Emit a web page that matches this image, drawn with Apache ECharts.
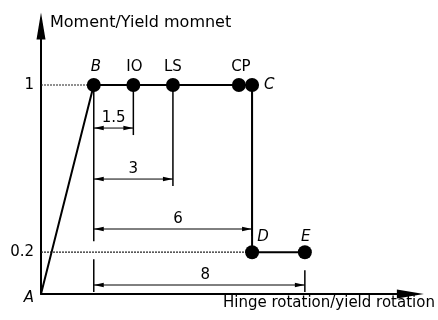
<!DOCTYPE html>
<html>
<head>
<meta charset="utf-8">
<script src="https://cdn.jsdelivr.net/npm/echarts@6/dist/echarts.min.js"></script>
<style>
  html, body { margin: 0; padding: 0; background: #fff; }
  #chart { width: 438px; height: 320px; }
</style>
</head>
<body>
<div id="chart"></div>
<script>
// Generalised moment-rotation relationship of a plastic hinge
const pointNames = ['A', 'B', 'IO', 'LS', 'CP', 'C', 'D', 'E'];
const pointX = [0, 2, 3.5, 5, 7.5, 8, 8, 10];
const pointY = [0, 1, 1, 1, 1, 1, 0.2, 0.2];
const curveNames = ['A', 'B', 'C', 'D', 'E'];

// Dimensioned rotations measured from B
const dimSpans = [1.5, 3, 6, 8];

// Y-axis tick labels
const yTicks = [0.2, 1];
const yTickLabels = ['0.2', '1'];

const xAxisName = 'Hinge rotation/yield rotation';
const yAxisName = 'Moment/Yield momnet';

// ---- drawing ----
const FONT = 'DejaVu Sans';
const INK = '#000';
const idx = n => pointNames.indexOf(n);
const ptOf = n => [pointX[idx(n)], pointY[idx(n)]];

// heights (in moment units) at which the dimension lines sit
const dimLevels = [0.794, 0.55, 0.311, 0.043];
const dimLabelShift = [0, 0, 5, 6];
const dimExtGap = [0, 0, 0, 18];

const italicNames = ['A', 'B', 'C', 'D', 'E'];
const labelPlace = {
  A: { position: 'left', distance: 7, offset: [0, 4] },
  B: { position: 'top', distance: 3.5, offset: [2, 0] },
  IO: { position: 'top', distance: 3.5, offset: [1, 0] },
  LS: { position: 'top', distance: 3.5, offset: [0, 0] },
  CP: { position: 'top', distance: 3.5, offset: [2, 0] },
  C: { position: 'right', distance: 5, offset: [0, 0] },
  D: { position: 'top', distance: 1, offset: [11, 0] },
  E: { position: 'top', distance: 0.5, offset: [1, 0] }
};

const pointData = pointNames.map((n, i) => ({
  name: n,
  value: [pointX[i], pointY[i]],
  symbolSize: n === 'A' ? 0 : 14,
  label: Object.assign({
    show: true,
    formatter: n,
    color: INK,
    fontFamily: FONT,
    fontSize: 15,
    fontStyle: italicNames.includes(n) ? 'italic' : 'normal'
  }, labelPlace[n])
}));

const curveData = curveNames.map(ptOf);
const guideTop = [[0, ptOf('B')[1]], ptOf('B')];
const guideLow = [[0, ptOf('D')[1]], ptOf('D')];

function renderDim(params, api) {
  const i = params.dataIndex;
  const span = api.value(0);
  const level = api.value(1);
  const xB = ptOf('B')[0];
  const xEnd = xB + span;
  const endY = pointY[pointX.indexOf(xEnd)];
  const p0 = api.coord([xB, level]);
  const p1 = api.coord([xEnd, level]);
  const pe = api.coord([xEnd, endY]);
  const y = p0[1];
  const aw = 2.3, al = 10;
  return {
    type: 'group',
    children: [
      { type: 'line', shape: { x1: p0[0], y1: y, x2: p1[0], y2: y }, style: { stroke: INK, lineWidth: 1 } },
      { type: 'polygon', shape: { points: [[p0[0], y], [p0[0] + al, y - aw], [p0[0] + al, y + aw]] }, style: { fill: INK } },
      { type: 'polygon', shape: { points: [[p1[0], y], [p1[0] - al, y - aw], [p1[0] - al, y + aw]] }, style: { fill: INK } },
      { type: 'line', shape: { x1: p1[0], y1: pe[1] + dimExtGap[i], x2: p1[0], y2: y + 7 }, style: { stroke: INK, lineWidth: 1.5 } },
      { type: 'text', x: (p0[0] + p1[0]) / 2 + dimLabelShift[i], y: y - 2,
        style: { text: String(span), fill: INK, font: '15px "' + FONT + '"', align: 'center', verticalAlign: 'bottom' } }
    ]
  };
}

function renderBaseExt(params, api) {
  const b = api.coord([api.value(0), api.value(1)]);
  const low = api.coord([api.value(0), ptOf('D')[1]]);
  const bottom = api.coord([api.value(0), Math.min.apply(null, dimLevels)]);
  return {
    type: 'group',
    children: [
      { type: 'line', shape: { x1: b[0], y1: b[1], x2: b[0], y2: low[1] - 11 }, style: { stroke: INK, lineWidth: 1.5 } },
      { type: 'line', shape: { x1: b[0], y1: low[1] + 7, x2: b[0], y2: bottom[1] + 7 }, style: { stroke: INK, lineWidth: 1.5 } }
    ]
  };
}

const chart = echarts.init(document.getElementById('chart'), null, { renderer: 'canvas' });
chart.setOption({
  animation: false,
  backgroundColor: '#fff',
  textStyle: { fontFamily: FONT },
  grid: { left: 41, right: 27.6, top: 26, bottom: 26, outerBoundsMode: 'none', containLabel: false },
  xAxis: {
    type: 'value', min: 0, max: 14,
    name: xAxisName, nameLocation: 'end', nameGap: 24.5,
    nameTextStyle: { color: INK, fontFamily: FONT, fontSize: 15, align: 'right', verticalAlign: 'top', padding: [2, 0, 0, 0] },
    axisLine: { show: true, lineStyle: { color: INK, width: 2 }, symbol: ['none', 'triangle'], symbolSize: [9, 27] },
    axisTick: { show: false }, axisLabel: { show: false }, splitLine: { show: false }
  },
  yAxis: {
    type: 'value', min: 0, max: 1.2823, interval: 0.2,
    name: yAxisName, nameLocation: 'end', nameGap: 3,
    nameTextStyle: { color: INK, fontFamily: FONT, fontSize: 16, align: 'left', verticalAlign: 'middle', padding: [0, 0, 0, 9] },
    axisLine: { show: true, lineStyle: { color: INK, width: 2 }, symbol: ['none', 'triangle'], symbolSize: [9, 27] },
    axisTick: { show: false },
    axisLabel: {
      color: INK, fontFamily: FONT, fontSize: 15, margin: 7,
      formatter: v => {
        const k = yTicks.findIndex(t => Math.abs(t - v) < 1e-6);
        return k >= 0 ? yTickLabels[k] : '';
      }
    },
    splitLine: { show: false }
  },
  series: [
    { type: 'line', data: guideTop, symbol: 'none', lineStyle: { color: '#222', width: 1.2, type: [2, 1] }, z: 1 },
    { type: 'line', data: guideLow, symbol: 'none', lineStyle: { color: '#222', width: 1.2, type: [2, 1] }, z: 1 },
    { type: 'custom', renderItem: renderBaseExt, data: [ptOf('B')], z: 2 },
    { type: 'custom', renderItem: renderDim, data: dimSpans.map((s, i) => [s, dimLevels[i]]), z: 2 },
    { type: 'line', data: curveData, symbol: 'none', lineStyle: { color: INK, width: 2 }, z: 3 },
    { type: 'scatter', data: pointData, symbol: 'circle', itemStyle: { color: INK, opacity: 1 }, z: 4 }
  ]
});
</script>
</body>
</html>
